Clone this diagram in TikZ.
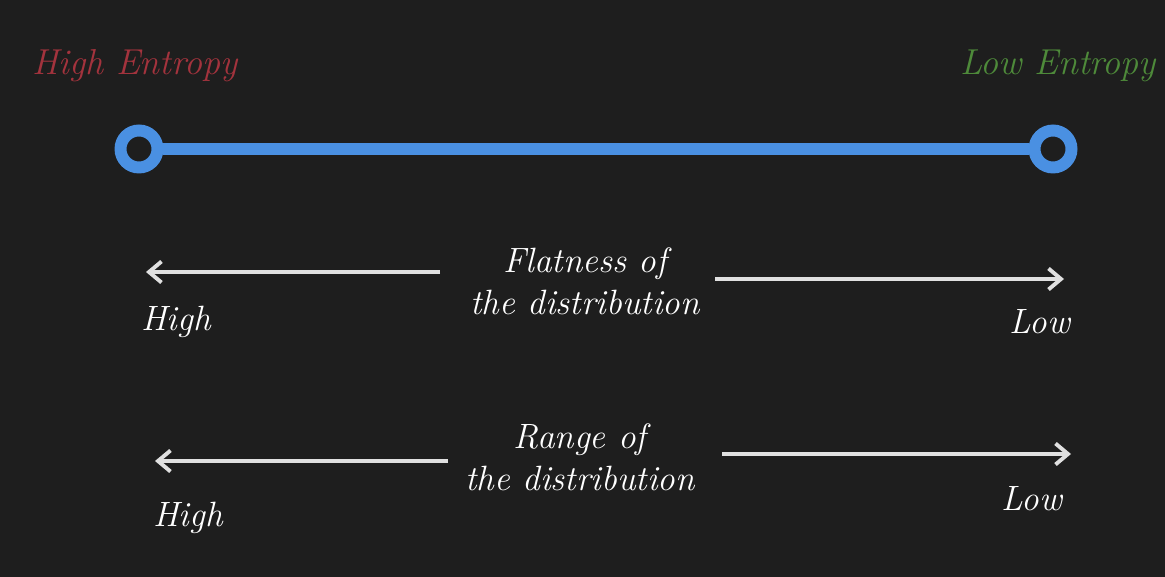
\documentclass[tikz,border=0pt]{standalone}
\usepackage{fontspec}
\usetikzlibrary{arrows.meta,positioning}
\definecolor{CanvasDark}{HTML}{1E1E1E}
\definecolor{EntropyRed}{HTML}{A3333D}
\definecolor{EntropyGreen}{HTML}{4E8A3A}
\definecolor{ScaleBlue}{HTML}{4A90E2}
\definecolor{PointerGray}{HTML}{E0E0E0}
\tikzset{
  endlabel/.style={font=\fontsize{20.5}{24}\selectfont\itshape, inner sep=0pt},
  caption/.style={font=\fontsize{20}{24}\selectfont\itshape, text=white,
    align=center, inner sep=0pt},
  extreme/.style={font=\fontsize{20}{24}\selectfont\itshape, text=white, inner sep=0pt},
  pointer/.style={-{Straight Barb[length=2.5mm, width=4.2mm, line width=2.2pt]},
    line width=2.2pt, PointerGray},
  scalebar/.style={line width=6.8pt, ScaleBlue},
  knob/.style={circle, draw=ScaleBlue, line width=6.8pt, fill=CanvasDark,
    minimum size=7.4mm, inner sep=0pt}
}

\begin{document}
\begin{tikzpicture}[x=0.02cm, y=-0.02cm]
  \fill[CanvasDark] (0,0) rectangle (1165,577);
  \useasboundingbox (0,0) rectangle (1165,577);

  % entropy scale
  \node[endlabel, text=EntropyRed] (highent) at (135,66) {High Entropy};
  \node[endlabel, text=EntropyGreen] (lowent) at (1058,66) {Low Entropy};
  \node[knob] (leftknob) at (139,149) {};
  \node[knob] (rightknob) at (1053,149) {};
  \draw[scalebar] (leftknob) -- (rightknob);

  % flatness
  \node[caption] (flat) at (585,281) {Flatness of\\the distribution};
  \coordinate (flatA) at (440,272);
  \coordinate (flatL) at (146,272);
  \coordinate (flatB) at (715,279);
  \coordinate (flatR) at (1064,279);
  \draw[pointer] (flatA) -- (flatL);
  \draw[pointer] (flatB) -- (flatR);
  \node[extreme] (flathigh) at (176,322) {High};
  \node[extreme] (flatlow) at (1040,322) {Low};

  % range
  \node[caption] (range) at (580,457) {Range of\\the distribution};
  \coordinate (rangeA) at (448,461);
  \coordinate (rangeL) at (155,461);
  \coordinate (rangeB) at (722,454);
  \coordinate (rangeR) at (1071,454);
  \draw[pointer] (rangeA) -- (rangeL);
  \draw[pointer] (rangeB) -- (rangeR);
  \node[extreme] (rangehigh) at (188,518) {High};
  \node[extreme] (rangelow) at (1032,499) {Low};
\end{tikzpicture}
\end{document}
